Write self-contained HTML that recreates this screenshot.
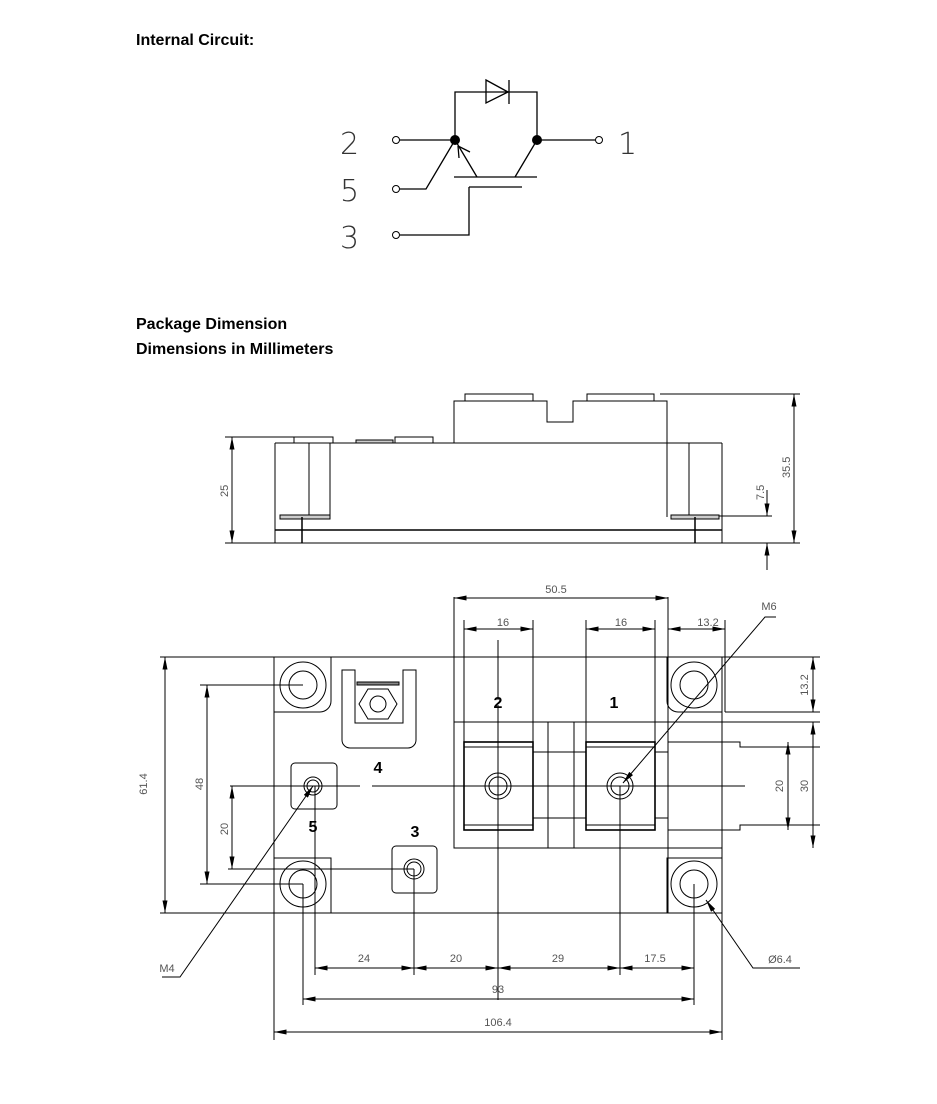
<!DOCTYPE html>
<html><head><meta charset="utf-8"><style>
body{margin:0;background:#fff;}
svg{display:block;}
.h{font-family:"Liberation Sans",sans-serif;font-weight:bold;font-size:16px;fill:#000;}
.d{font-family:"Liberation Sans",sans-serif;font-size:11px;fill:#555;}
.c{font-family:"DejaVu Sans",sans-serif;font-weight:200;font-size:30px;fill:#333;}
</style></head><body>
<svg width="937" height="1104" viewBox="0 0 937 1104" xmlns="http://www.w3.org/2000/svg">
<defs>
<marker id="a" viewBox="0 0 10 4" refX="10" refY="2" markerWidth="15" markerHeight="5" markerUnits="userSpaceOnUse" orient="auto-start-reverse"><path d="M0,0L10,2L0,4z" fill="#000"/></marker>
</defs>
<text class="h" x="136" y="45">Internal Circuit:</text>
<text class="h" x="136" y="329">Package Dimension</text>
<text class="h" x="136" y="354">Dimensions in Millimeters</text>

<!-- circuit -->
<g stroke="#000" stroke-width="1.3" fill="none">
<path d="M455,140V92H537V140"/>
<path d="M486,80L508,92L486,103Z"/><path d="M509,80V104"/>
<path d="M396,140H455M537,140H595"/>
<path d="M455,140L477,177M537,140L515,177M454,177H537"/>
<path d="M458,146L470,152M458,146L459,158" />
<path d="M455,140L426,189H400"/>
<path d="M469,187H522M469,187V235H400"/>
</g>
<g stroke="#000" fill="#fff" stroke-width="1"><circle cx="396" cy="140" r="3.5"/><circle cx="396" cy="189" r="3.5"/><circle cx="396" cy="235" r="3.5"/><circle cx="599" cy="140" r="3.5"/></g>
<circle cx="455" cy="140" r="5"/><circle cx="537" cy="140" r="5"/>
<text class="c" x="340" y="154">2</text><text class="c" x="340" y="201">5</text><text class="c" x="340" y="248">3</text><text class="c" x="618" y="154">1</text>

<!-- side view -->
<g stroke="#000" stroke-width="1" fill="none">
<path d="M275,443H722M275,443V543M722,443V543M309,443V517M330,443V517M667,443V517M689,443V517"/>
<rect x="280" y="515" width="50" height="4" fill="#ccc"/><rect x="671" y="515" width="48" height="4" fill="#ccc"/>
<path d="M275,530H722M302,517V543M695,517V543" stroke-width="1.5"/>
<rect x="294" y="437" width="39" height="6"/><rect x="356" y="440" width="37" height="3" fill="#ccc"/><rect x="395" y="437" width="38" height="6"/>
<path d="M454,443V401H547V422H573V401H667V443"/>
<rect x="465" y="394" width="68" height="7"/><rect x="587" y="394" width="67" height="7"/>
<path d="M225,437H330M225,543H800M660,394H800M719,516H772"/>
<path d="M232,437V543" marker-start="url(#a)" marker-end="url(#a)"/>
<path d="M794,394V543" marker-start="url(#a)" marker-end="url(#a)"/>
<path d="M767,490V516" marker-end="url(#a)"/><path d="M767,570V543" marker-end="url(#a)"/>
</g>
<text class="d" transform="translate(228,497) rotate(-90)">25</text>
<text class="d" transform="translate(790,478) rotate(-90)">35.5</text>
<text class="d" transform="translate(764,500) rotate(-90)">7.5</text>

<!-- top view -->
<g stroke="#000" stroke-width="1" fill="none">
<path d="M160,657H820M274,657V913M722,657V913M160,913H722"/>
<path d="M274,712H320a11,11 0 0 0 11,-11V657"/>
<path d="M274,858H331V913M722,712H678a11,11 0 0 1 -11,-11V657M722,858H667V913"/>
<circle cx="303" cy="685" r="23"/><circle cx="303" cy="685" r="14"/>
<circle cx="303" cy="884" r="23"/><circle cx="303" cy="884" r="14"/>
<circle cx="694" cy="685" r="23"/><circle cx="694" cy="685" r="14"/>
<circle cx="694" cy="884" r="23"/><circle cx="694" cy="884" r="14"/>
<path d="M342,670V740a8,8 0 0 0 8,8H408a8,8 0 0 0 8,-8V670H403V723H355V670Z"/>
<rect x="357" y="682" width="42" height="3" fill="#888"/>
<polygon points="368,689 388,689 397,704 388,719 368,719 359,704"/><circle cx="378" cy="704" r="8"/>
<rect x="291" y="763" width="46" height="46" rx="4"/><circle cx="313" cy="786" r="9"/><circle cx="313" cy="786" r="6"/>
<rect x="392" y="846" width="45" height="47" rx="4"/><circle cx="414" cy="869" r="10"/><circle cx="414" cy="869" r="7"/>
<path d="M454,597V848H722M454,722H820"/>
<path d="M548,722V848M574,722V848M533,752H586M533,818H586M655,752H668M655,818H668"/>
<rect x="464" y="742" width="69" height="88" stroke-width="1.6"/>
<rect x="586" y="742" width="69" height="88" stroke-width="1.6"/>
<path d="M464,747H533M464,825H533M586,747H655M586,825H655"/>
<circle cx="498" cy="786" r="13"/><circle cx="498" cy="786" r="9"/>
<circle cx="620" cy="786" r="13"/><circle cx="620" cy="786" r="9"/>
<path d="M668,742H740V747H820M668,830H740V825H820M725,712H820"/>
<path d="M230,786H360M372,786H745"/>
<path d="M464,620V742M533,620V742M586,620V742M655,620V742M668,597V913M725,620V712"/>
<path d="M498,640V700M498,705V1000M620,786V975M414,869V975M315,786V975M303,884V1005M694,884V1005M274,913V1040M722,913V1040"/>
<path d="M200,685H303M200,884H303M228,869H414"/>
<path d="M165,657V913" marker-start="url(#a)" marker-end="url(#a)"/>
<path d="M207,685V884" marker-start="url(#a)" marker-end="url(#a)"/>
<path d="M232,786V869" marker-start="url(#a)" marker-end="url(#a)"/>
<path d="M813,657V712" marker-start="url(#a)" marker-end="url(#a)"/>
<path d="M813,722V848" marker-start="url(#a)" marker-end="url(#a)"/>
<path d="M788,742V830" marker-start="url(#a)" marker-end="url(#a)"/>
<path d="M454,598H668" marker-start="url(#a)" marker-end="url(#a)"/>
<path d="M464,629H533" marker-start="url(#a)" marker-end="url(#a)"/>
<path d="M586,629H655" marker-start="url(#a)" marker-end="url(#a)"/>
<path d="M668,629H725" marker-start="url(#a)" marker-end="url(#a)"/>
<path d="M315,968H414" marker-start="url(#a)" marker-end="url(#a)"/>
<path d="M414,968H498" marker-start="url(#a)" marker-end="url(#a)"/>
<path d="M498,968H620" marker-start="url(#a)" marker-end="url(#a)"/>
<path d="M620,968H694" marker-start="url(#a)" marker-end="url(#a)"/>
<path d="M303,999H694" marker-start="url(#a)" marker-end="url(#a)"/>
<path d="M274,1032H722" marker-start="url(#a)" marker-end="url(#a)"/>
<path d="M162,977H180L313,786" marker-end="url(#a)"/>
<path d="M776,617H765L623,783" marker-end="url(#a)"/>
<path d="M800,968H753L706,900" marker-end="url(#a)"/>
</g>
<g font-family="Liberation Sans,sans-serif" font-weight="bold" font-size="16" text-anchor="middle">
<text x="498" y="708">2</text><text x="614" y="708">1</text><text x="378" y="773">4</text><text x="313" y="832">5</text><text x="415" y="837">3</text>
</g>
<g class="d" text-anchor="middle">
<text x="556" y="593" class="d">50.5</text><text x="503" y="626" class="d">16</text><text x="621" y="626" class="d">16</text><text x="708" y="626" class="d">13.2</text>
<text x="769" y="610" class="d">M6</text><text x="167" y="972" class="d">M4</text><text x="780" y="963" class="d">Ø6.4</text>
<text x="364" y="962" class="d">24</text><text x="456" y="962" class="d">20</text><text x="558" y="962" class="d">29</text><text x="655" y="962" class="d">17.5</text>
<text x="498" y="993" class="d">93</text><text x="498" y="1026" class="d">106.4</text>
</g>
<text class="d" text-anchor="middle" transform="translate(147,784) rotate(-90)">61.4</text>
<text class="d" text-anchor="middle" transform="translate(203,784) rotate(-90)">48</text>
<text class="d" text-anchor="middle" transform="translate(228,829) rotate(-90)">20</text>
<text class="d" text-anchor="middle" transform="translate(808,685) rotate(-90)">13.2</text>
<text class="d" text-anchor="middle" transform="translate(808,786) rotate(-90)">30</text>
<text class="d" text-anchor="middle" transform="translate(783,786) rotate(-90)">20</text>
</svg>
</body></html>
